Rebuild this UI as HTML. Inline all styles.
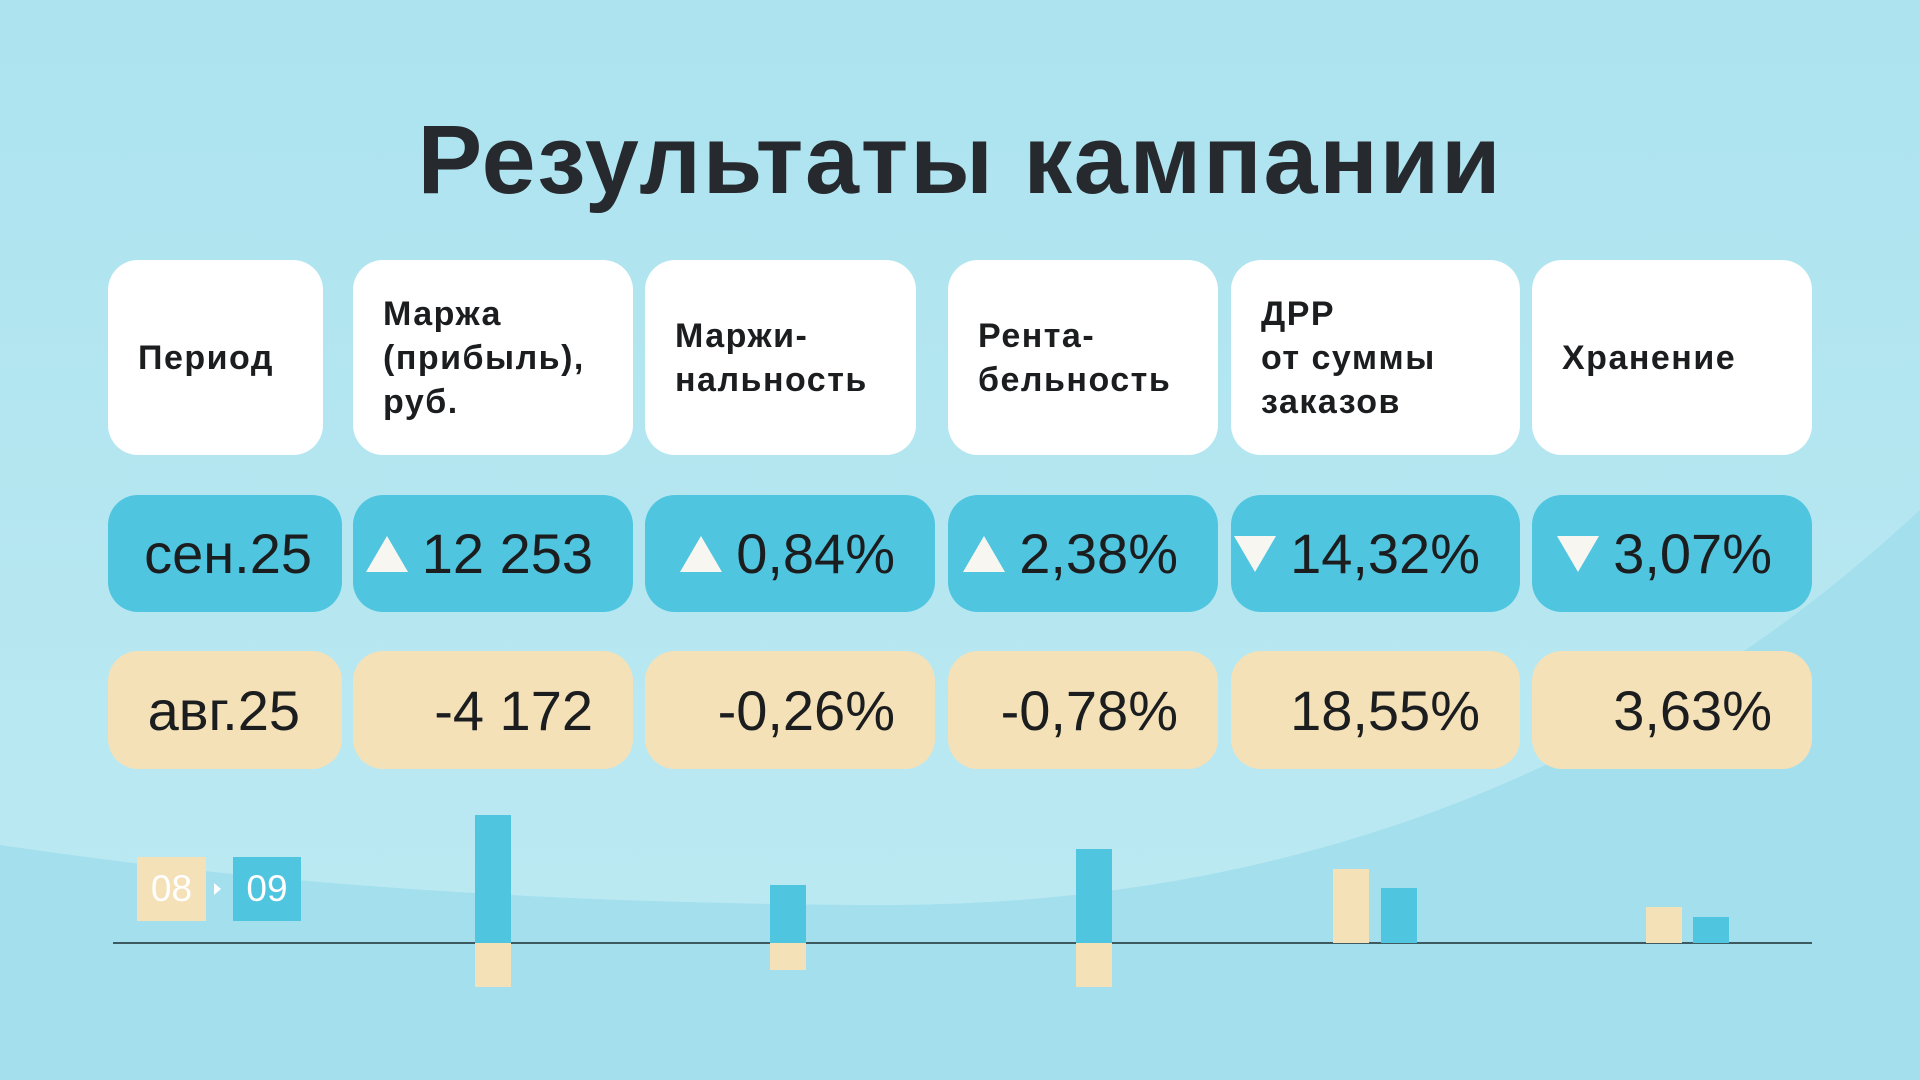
<!DOCTYPE html>
<html><head><meta charset="utf-8"><style>
body{margin:0;width:1920px;height:1080px;overflow:hidden;font-family:"Liberation Sans",sans-serif;}
.bg{position:absolute;left:0;top:0}
.t{position:absolute;left:0;width:1920px;top:104px;text-align:center;font-weight:bold;font-size:97px;color:#262a2e;letter-spacing:1.8px}
.c{position:absolute;border-radius:30px;box-sizing:border-box;display:flex;align-items:center;color:#1b1d1f}
.h{background:#fff;top:260px;height:195px;font-weight:bold;font-size:34px;line-height:44px;padding-left:30px;letter-spacing:1.5px}
.s{background:#50c5df;top:495px;height:117px;font-size:56px;justify-content:flex-end;padding-right:40px}
.a{background:#f4e1b8;top:651px;height:118px;font-size:56px;justify-content:flex-end;padding-right:40px}
.up{display:inline-block;width:0;height:0;border-left:21px solid transparent;border-right:21px solid transparent;border-bottom:36px solid #f8f6f0;margin-right:14px}
.dn{display:inline-block;width:0;height:0;border-left:21px solid transparent;border-right:21px solid transparent;border-top:36px solid #f8f6f0;margin-right:14px}
.b{position:absolute}
</style></head><body>
<svg class="bg" width="1920" height="1080">
<defs><linearGradient id="g" x1="0" y1="0" x2="0" y2="1"><stop offset="0" stop-color="#ace3ef"/><stop offset="1" stop-color="#bbe9f2"/></linearGradient></defs>
<rect width="1920" height="1080" fill="#ace3ef"/>
<path d="M0 0 L1920 0 L1920 510 Q1500 900 900 905 Q400 905 0 845 Z" fill="url(#g)"/>
<path d="M0 845 Q400 905 900 905 Q1500 900 1920 510 L1920 1080 L0 1080 Z" fill="#a3dfed"/>
<line x1="113" y1="943" x2="1812" y2="943" stroke="#3d5a60" stroke-width="2"/>
</svg>
<div class="t">Результаты кампании</div>
<div class="c h" style="left:108px;width:215px">Период</div>
<div class="c h" style="left:353px;width:280px">Маржа<br>(прибыль),<br>руб.</div>
<div class="c h" style="left:645px;width:271px">Маржи-<br>нальность</div>
<div class="c h" style="left:948px;width:270px">Рента-<br>бельность</div>
<div class="c h" style="left:1231px;width:289px">ДРР<br>от суммы<br>заказов</div>
<div class="c h" style="left:1532px;width:280px">Хранение</div>

<div class="c s" style="left:108px;width:234px;padding-right:30px">сен.25</div>
<div class="c s" style="left:353px;width:280px"><span class="up"></span>12 253</div>
<div class="c s" style="left:645px;width:290px"><span class="up"></span>0,84%</div>
<div class="c s" style="left:948px;width:270px"><span class="up"></span>2,38%</div>
<div class="c s" style="left:1231px;width:289px"><span class="dn"></span>14,32%</div>
<div class="c s" style="left:1532px;width:280px"><span class="dn"></span>3,07%</div>

<div class="c a" style="left:108px;width:234px;padding-right:42px">авг.25</div>
<div class="c a" style="left:353px;width:280px">-4 172</div>
<div class="c a" style="left:645px;width:290px">-0,26%</div>
<div class="c a" style="left:948px;width:270px">-0,78%</div>
<div class="c a" style="left:1231px;width:289px">18,55%</div>
<div class="c a" style="left:1532px;width:280px">3,63%</div>

<div class="b" style="left:137px;top:857px;width:69px;height:64px;background:#f4e1b8;color:#fff;font-size:37px;text-align:center;line-height:64px">08</div>
<div class="b" style="left:214px;top:883px;width:0;height:0;border-top:6px solid transparent;border-bottom:6px solid transparent;border-left:7px solid #fff"></div>
<div class="b" style="left:233px;top:857px;width:68px;height:64px;background:#50c5df;color:#fff;font-size:37px;text-align:center;line-height:64px">09</div>

<div class="b" style="left:475px;top:815px;width:36px;height:128px;background:#50c5df"></div>
<div class="b" style="left:475px;top:943px;width:36px;height:44px;background:#f4e1b8"></div>
<div class="b" style="left:770px;top:885px;width:36px;height:58px;background:#50c5df"></div>
<div class="b" style="left:770px;top:943px;width:36px;height:27px;background:#f4e1b8"></div>
<div class="b" style="left:1076px;top:849px;width:36px;height:94px;background:#50c5df"></div>
<div class="b" style="left:1076px;top:943px;width:36px;height:44px;background:#f4e1b8"></div>
<div class="b" style="left:1333px;top:869px;width:36px;height:74px;background:#f4e1b8"></div>
<div class="b" style="left:1381px;top:888px;width:36px;height:55px;background:#50c5df"></div>
<div class="b" style="left:1646px;top:907px;width:36px;height:36px;background:#f4e1b8"></div>
<div class="b" style="left:1693px;top:917px;width:36px;height:26px;background:#50c5df"></div>
</body></html>
